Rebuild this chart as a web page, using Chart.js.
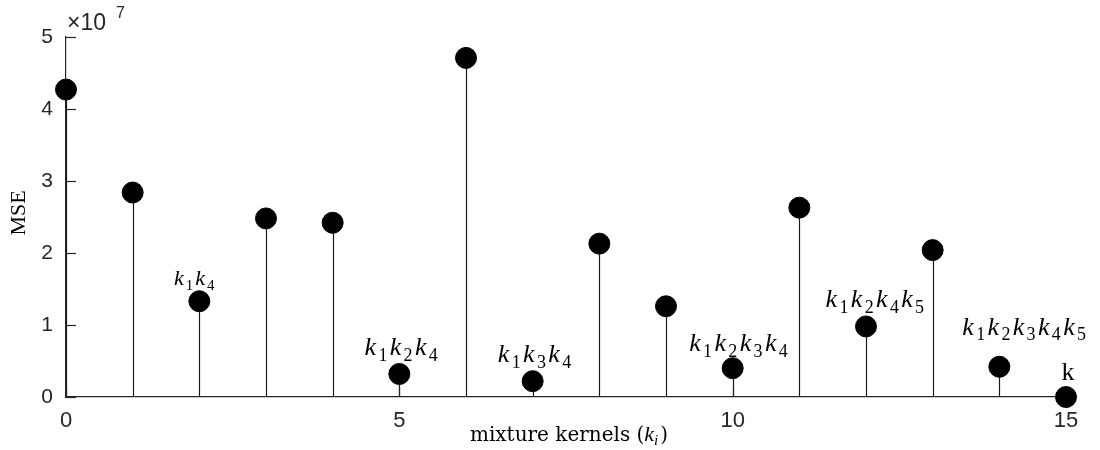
<!DOCTYPE html>
<html>
<head>
<meta charset="utf-8">
<script src="https://cdn.jsdelivr.net/npm/chart.js@4.4.0/dist/chart.umd.min.js"></script>
<style>
  html, body { margin: 0; padding: 0; background: #fff; }
  #wrap { width: 1100px; height: 450px; }
</style>
</head>
<body>
<div id="wrap"><canvas id="stem-chart" width="1100" height="450"></canvas></div>
<script>
// mixture kernel index and its MSE
const kernels = [0, 1, 2, 3, 4, 5, 6, 7, 8, 9, 10, 11, 12, 13, 14, 15];
const mse = [4.27e7, 2.84e7, 1.33e7, 2.48e7, 2.42e7, 0.32e7, 4.71e7, 0.22e7,
             2.13e7, 1.26e7, 0.40e7, 2.63e7, 0.98e7, 2.04e7, 0.42e7, 0.0];

// annotated combinations (index -> subscripts of k)
const noteIndex = [2, 5, 7, 10, 12, 14, 15];
const noteSubs = [[1, 4], [1, 2, 4], [1, 3, 4], [1, 2, 3, 4], [1, 2, 4, 5], [1, 2, 3, 4, 5], []];

const yTicks = [0, 1e7, 2e7, 3e7, 4e7, 5e7];
const xTicks = [0, 5, 10, 15];

const axisColor = '#262626';
const serif = '"Liberation Serif", "DejaVu Serif", serif';
const wideSerif = '"DejaVu Serif", "Liberation Serif", serif';
const sans = '"Liberation Sans", Arial, sans-serif';

// label style: font size, gap above the marker, horizontal nudge
const noteStyle = [
  { size: 22, gap: 16, dx: -4 },
  { size: 26, gap: 19, dx: 3 },
  { size: 26, gap: 19, dx: 3 },
  { size: 26, gap: 17, dx: 7 },
  { size: 26, gap: 19, dx: 10 },
  { size: 26, gap: 32, dx: 26 },
  { size: 26, gap: 17, dx: 2 }
];

// draws k_a k_b ... centred on x, baseline y
function drawKs(ctx, subs, x, y, size) {
  const main = `italic ${size}px ${serif}`;
  const sub = `${Math.round(size * 0.7)}px ${serif}`;
  const parts = [];
  if (subs.length === 0) {
    parts.push({ t: 'k', f: `${size}px ${serif}`, dy: 0 });
  } else {
    subs.forEach(s => {
      parts.push({ t: 'k', f: main, dy: 0, pad: size * 0.09 });
      parts.push({ t: String(s), f: sub, dy: size * 0.22, pad: size * 0.09 });
    });
  }
  let total = 0;
  parts.forEach(p => { ctx.font = p.f; p.w = ctx.measureText(p.t).width + (p.pad || 0); total += p.w; });
  let cx = x - total / 2;
  ctx.textAlign = 'left';
  ctx.textBaseline = 'alphabetic';
  parts.forEach(p => { ctx.font = p.f; ctx.fillText(p.t, cx, y + p.dy); cx += p.w; });
}

const stemPlugin = {
  id: 'stems',
  beforeDatasetsDraw(chart) {
    const { ctx, scales: { x, y } } = chart;
    ctx.save();
    ctx.strokeStyle = '#1a1a1a';
    ctx.lineWidth = 1.2;
    kernels.forEach((k, i) => {
      const px = Math.round(x.getPixelForValue(k)) + 0.5;
      ctx.beginPath();
      ctx.moveTo(px, y.getPixelForValue(0));
      ctx.lineTo(px, y.getPixelForValue(mse[i]));
      ctx.stroke();
    });
    // inward tick marks
    ctx.strokeStyle = axisColor;
    yTicks.forEach(v => {
      const py = Math.round(y.getPixelForValue(v)) + 0.5;
      ctx.beginPath();
      ctx.moveTo(x.left, py);
      ctx.lineTo(x.left + 10, py);
      ctx.stroke();
    });
    xTicks.forEach(v => {
      const px = Math.round(x.getPixelForValue(v)) + 0.5;
      ctx.beginPath();
      ctx.moveTo(px, y.bottom);
      ctx.lineTo(px, y.bottom - 10);
      ctx.stroke();
    });
    ctx.restore();
  },
  afterDraw(chart) {
    const { ctx, scales: { x, y } } = chart;
    ctx.save();
    ctx.fillStyle = '#000';
    noteIndex.forEach((idx, j) => {
      const st = noteStyle[j];
      drawKs(ctx, noteSubs[j], x.getPixelForValue(kernels[idx]) + st.dx,
             y.getPixelForValue(mse[idx]) - st.gap, st.size);
    });

    // exponent above the y axis
    ctx.fillStyle = axisColor;
    ctx.textAlign = 'left';
    ctx.textBaseline = 'alphabetic';
    ctx.font = `23px ${sans}`;
    ctx.fillText('\u00d710', x.left + 1, y.top - 7);
    ctx.font = `16px ${sans}`;
    ctx.fillText('7', x.left + 50, y.top - 19);

    // y title
    ctx.fillStyle = '#000';
    ctx.save();
    ctx.translate(25, 213);
    ctx.rotate(-Math.PI / 2);
    ctx.textAlign = 'center';
    ctx.font = `22px ${serif}`;
    ctx.fillText('MSE', 0, 0);
    ctx.restore();

    // x title: mixture kernels (k_i)
    const baseY = 441;
    const segs = [
      { t: 'mixture kernels (', f: `20px ${wideSerif}`, dy: 0 },
      { t: 'k', f: `italic 22px ${serif}`, dy: 0 },
      { t: 'i', f: `italic 15px ${serif}`, dy: 4 },
      { t: ')', f: `20px ${wideSerif}`, dy: 0 }
    ];
    let tot = 0;
    segs.forEach(s => { ctx.font = s.f; s.w = ctx.measureText(s.t).width + (s.t === 'i' ? 2 : 0); tot += s.w; });
    let cx = 569 - tot / 2;
    segs.forEach(s => { ctx.font = s.f; ctx.fillText(s.t, cx, baseY + s.dy); cx += s.w; });
    ctx.restore();
  }
};

document.addEventListener('DOMContentLoaded', () => {
  const ctx = document.getElementById('stem-chart').getContext('2d');
  new Chart(ctx, {
    type: 'scatter',
    data: {
      datasets: [{
        data: kernels.map((k, i) => ({ x: k, y: mse[i] })),
        backgroundColor: '#000',
        borderColor: '#000',
        pointRadius: 10.5,
        pointHoverRadius: 10.5,
        clip: false
      }]
    },
    options: {
      responsive: false,
      animation: false,
      events: [],
      layout: { padding: { top: 37, right: 34, left: 0, bottom: 0 } },
      plugins: { legend: { display: false }, tooltip: { enabled: false } },
      scales: {
        x: {
          type: 'linear',
          min: 0,
          max: 15,
          afterFit: s => { s.height = 53; },
          afterBuildTicks: s => { s.ticks = xTicks.map(v => ({ value: v })); },
          grid: { display: false, drawTicks: false },
          border: { display: true, color: axisColor, width: 1.2 },
          ticks: { color: axisColor, font: { family: sans, size: 22 }, padding: 11, maxRotation: 0 }
        },
        y: {
          min: 0,
          max: 5e7,
          afterFit: s => { s.width = 66; },
          afterBuildTicks: s => { s.ticks = yTicks.map(v => ({ value: v })); },
          grid: { display: false, drawTicks: false },
          border: { display: true, color: axisColor, width: 1.2 },
          ticks: { color: axisColor, font: { family: sans, size: 21 }, padding: 13,
                   callback: v => String(v / 1e7) }
        }
      }
    },
    plugins: [stemPlugin]
  });
});
</script>
</body>
</html>
